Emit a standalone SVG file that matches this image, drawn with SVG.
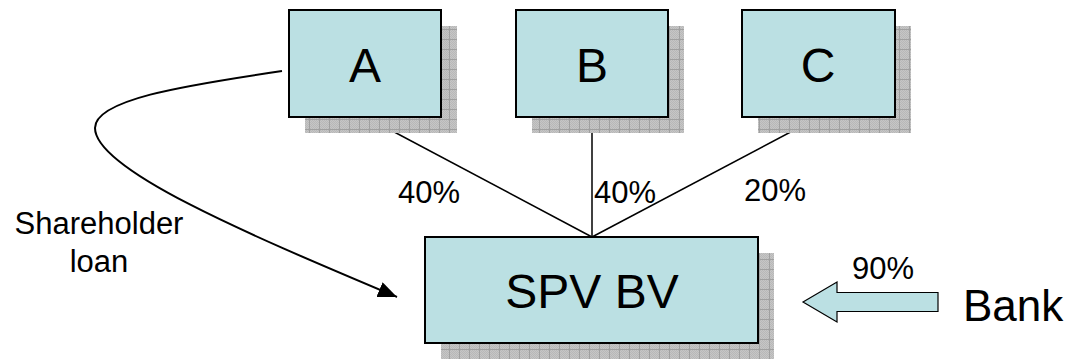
<svg xmlns="http://www.w3.org/2000/svg" width="1073" height="359" viewBox="0 0 1073 359">
  <style>
    .box { fill: #BBE0E3; stroke: #000; stroke-width: 2; }
    .shadow { fill: url(#shade); }
    .link { fill: none; stroke: #000; stroke-width: 1.5; }
    .t { font-family: "Liberation Sans", Arial, sans-serif; fill: #000; }
    .big { font-size: 48px; text-anchor: middle; }
    .pct { font-size: 31px; }
    .note { font-size: 31px; text-anchor: middle; }
  </style>
  <defs>
    <!-- dithered grey grid used for drop shadows -->
    <pattern id="shade" patternUnits="userSpaceOnUse" width="10" height="10">
      <rect width="10" height="10" fill="#c6c6c6"/>
      <path d="M0 0h1v1h-1zM2 0h1v1h-1zM4 0h1v1h-1zM6 0h1v1h-1zM8 0h1v1h-1zM1 1h1v1h-1zM3 1h1v1h-1zM5 1h1v1h-1zM7 1h1v1h-1zM9 1h1v1h-1z" fill="#b8b8b8"/>
      <path d="M0 2h1v1h-1zM2 2h1v1h-1zM4 2h1v1h-1zM6 2h1v1h-1zM8 2h1v1h-1zM1 3h1v1h-1zM3 3h1v1h-1zM5 3h1v1h-1zM7 3h1v1h-1zM9 3h1v1h-1z" fill="#b8b8b8"/>
      <path d="M0 4h1v1h-1zM2 4h1v1h-1zM4 4h1v1h-1zM6 4h1v1h-1zM8 4h1v1h-1zM1 5h1v1h-1zM3 5h1v1h-1zM5 5h1v1h-1zM7 5h1v1h-1zM9 5h1v1h-1z" fill="#b8b8b8"/>
      <path d="M0 6h1v1h-1zM2 6h1v1h-1zM4 6h1v1h-1zM6 6h1v1h-1zM8 6h1v1h-1zM1 7h1v1h-1zM3 7h1v1h-1zM5 7h1v1h-1zM7 7h1v1h-1zM9 7h1v1h-1z" fill="#b8b8b8"/>
      <path d="M0 8h1v1h-1zM2 8h1v1h-1zM4 8h1v1h-1zM6 8h1v1h-1zM8 8h1v1h-1z" fill="#b8b8b8"/>
      <rect x="9" y="0" width="1" height="10" fill="#a0a0a0"/>
      <rect x="0" y="9" width="10" height="1" fill="#a0a0a0"/>
    </pattern>
    <marker id="head" markerUnits="userSpaceOnUse" markerWidth="20" markerHeight="16" refX="19" refY="8" orient="auto">
      <path d="M0 0 L19 8 L0 16 Z" fill="#000"/>
    </marker>
  </defs>

  <rect width="1073" height="359" fill="#fff"/>

  <!-- ownership links, loan curve and bank funding arrow -->
  <g id="connectors">
    <path class="link" d="M366 117 L592 237"/>
    <path class="link" d="M592 117 L592 237"/>
    <path class="link" d="M819 117 L592 237"/>
    <path class="link" style="stroke-width:2" d="M282 71 C180 86 95 100 95 128 C95 170 250 235 397 297" marker-end="url(#head)"/>
    <polygon points="803,302 837,282 837,292.5 938,292.5 938,311.5 837,311.5 837,322" fill="#BBE0E3" stroke="#000" stroke-width="1.2"/>
  </g>

  <g id="node-a">
    <rect class="shadow" x="305" y="26" width="152" height="107"/>
    <rect class="box" x="289" y="10" width="152" height="107"/>
    <text class="t big" x="365" y="82">A</text>
  </g>
  <g id="node-b">
    <rect class="shadow" x="532" y="26" width="152" height="107"/>
    <rect class="box" x="516" y="10" width="152" height="107"/>
    <text class="t big" x="592" y="82">B</text>
  </g>
  <g id="node-c">
    <rect class="shadow" x="758" y="26" width="153" height="107"/>
    <rect class="box" x="742" y="10" width="153" height="107"/>
    <text class="t big" x="818" y="82">C</text>
  </g>
  <g id="node-spv">
    <rect class="shadow" x="441" y="253" width="333" height="106"/>
    <rect class="box" x="425" y="237" width="333" height="106"/>
    <text class="t big" x="592" y="308">SPV BV</text>
  </g>

  <g id="labels">
    <text class="t pct" x="398" y="203">40%</text>
    <text class="t pct" x="594" y="203">40%</text>
    <text class="t pct" x="744" y="201">20%</text>
    <text class="t pct" x="852" y="279">90%</text>
    <text class="t note" x="99" y="234">Shareholder</text>
    <text class="t note" x="99" y="272">loan</text>
  </g>

  <g id="node-bank">
    <text class="t" x="963" y="321" font-size="44">Bank</text>
  </g>
</svg>
